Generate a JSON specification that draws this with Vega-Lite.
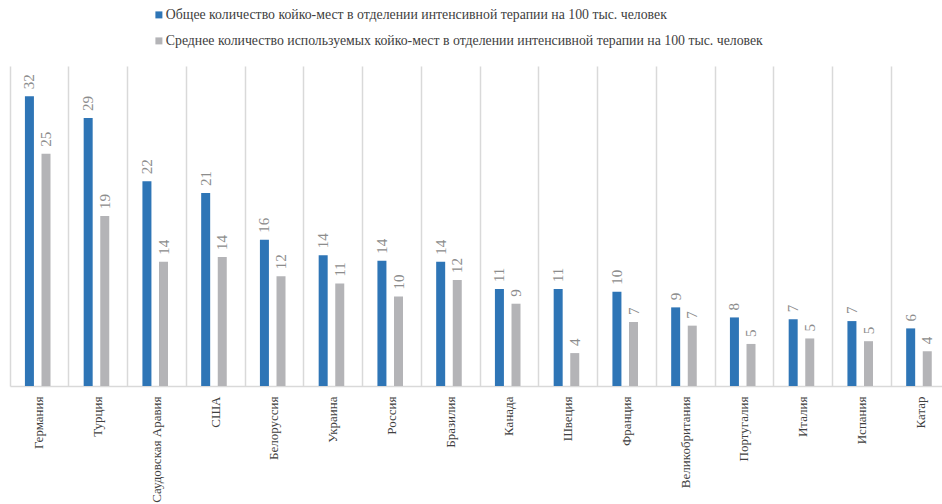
{
  "$schema": "https://vega.github.io/schema/vega-lite/v6.json",
  "width": 932,
  "height": 320,
  "autosize": {"type": "none"},
  "padding": {"left": 10, "top": 66, "right": 0, "bottom": 118},
  "background": "white",
  "config": {
    "view": {"stroke": null},
    "font": "Liberation Serif"
  },
  "data": {
    "values": [
      {"country": "Германия", "series": "Общее количество койко-мест в отделении интенсивной терапии на 100 тыс. человек", "value": 31.7},
      {"country": "Германия", "series": "Среднее количество используемых койко-мест в отделении интенсивной терапии на 100 тыс. человек", "value": 25.4},
      {"country": "Турция", "series": "Общее количество койко-мест в отделении интенсивной терапии на 100 тыс. человек", "value": 29.3},
      {"country": "Турция", "series": "Среднее количество используемых койко-мест в отделении интенсивной терапии на 100 тыс. человек", "value": 18.6},
      {"country": "Саудовская Аравия", "series": "Общее количество койко-мест в отделении интенсивной терапии на 100 тыс. человек", "value": 22.4},
      {"country": "Саудовская Аравия", "series": "Среднее количество используемых койко-мест в отделении интенсивной терапии на 100 тыс. человек", "value": 13.6},
      {"country": "США", "series": "Общее количество койко-мест в отделении интенсивной терапии на 100 тыс. человек", "value": 21.1},
      {"country": "США", "series": "Среднее количество используемых койко-мест в отделении интенсивной терапии на 100 тыс. человек", "value": 14.1},
      {"country": "Белоруссия", "series": "Общее количество койко-мест в отделении интенсивной терапии на 100 тыс. человек", "value": 16.0},
      {"country": "Белоруссия", "series": "Среднее количество используемых койко-мест в отделении интенсивной терапии на 100 тыс. человек", "value": 12.0},
      {"country": "Украина", "series": "Общее количество койко-мест в отделении интенсивной терапии на 100 тыс. человек", "value": 14.3},
      {"country": "Украина", "series": "Среднее количество используемых койко-мест в отделении интенсивной терапии на 100 тыс. человек", "value": 11.2},
      {"country": "Россия", "series": "Общее количество койко-мест в отделении интенсивной терапии на 100 тыс. человек", "value": 13.7},
      {"country": "Россия", "series": "Среднее количество используемых койко-мест в отделении интенсивной терапии на 100 тыс. человек", "value": 9.8},
      {"country": "Бразилия", "series": "Общее количество койко-мест в отделении интенсивной терапии на 100 тыс. человек", "value": 13.6},
      {"country": "Бразилия", "series": "Среднее количество используемых койко-мест в отделении интенсивной терапии на 100 тыс. человек", "value": 11.6},
      {"country": "Канада", "series": "Общее количество койко-мест в отделении интенсивной терапии на 100 тыс. человек", "value": 10.6},
      {"country": "Канада", "series": "Среднее количество используемых койко-мест в отделении интенсивной терапии на 100 тыс. человек", "value": 9.0},
      {"country": "Швеция", "series": "Общее количество койко-мест в отделении интенсивной терапии на 100 тыс. человек", "value": 10.6},
      {"country": "Швеция", "series": "Среднее количество используемых койко-мест в отделении интенсивной терапии на 100 тыс. человек", "value": 3.6},
      {"country": "Франция", "series": "Общее количество койко-мест в отделении интенсивной терапии на 100 тыс. человек", "value": 10.3},
      {"country": "Франция", "series": "Среднее количество используемых койко-мест в отделении интенсивной терапии на 100 тыс. человек", "value": 7.0},
      {"country": "Великобритания", "series": "Общее количество койко-мест в отделении интенсивной терапии на 100 тыс. человек", "value": 8.6},
      {"country": "Великобритания", "series": "Среднее количество используемых койко-мест в отделении интенсивной терапии на 100 тыс. человек", "value": 6.6},
      {"country": "Португалия", "series": "Общее количество койко-мест в отделении интенсивной терапии на 100 тыс. человек", "value": 7.5},
      {"country": "Португалия", "series": "Среднее количество используемых койко-мест в отделении интенсивной терапии на 100 тыс. человек", "value": 4.6},
      {"country": "Италия", "series": "Общее количество койко-мест в отделении интенсивной терапии на 100 тыс. человек", "value": 7.3},
      {"country": "Италия", "series": "Среднее количество используемых койко-мест в отделении интенсивной терапии на 100 тыс. человек", "value": 5.2},
      {"country": "Испания", "series": "Общее количество койко-мест в отделении интенсивной терапии на 100 тыс. человек", "value": 7.1},
      {"country": "Испания", "series": "Среднее количество используемых койко-мест в отделении интенсивной терапии на 100 тыс. человек", "value": 4.9},
      {"country": "Катар", "series": "Общее количество койко-мест в отделении интенсивной терапии на 100 тыс. человек", "value": 6.3},
      {"country": "Катар", "series": "Среднее количество используемых койко-мест в отделении интенсивной терапии на 100 тыс. человек", "value": 3.8}
    ]
  },
  "encoding": {
    "x": {
      "field": "country",
      "type": "nominal",
      "sort": null,
      "scale": {"range": [0, 940], "paddingInner": 0, "paddingOuter": 0},
      "axis": {
        "title": null,
        "labelAngle": 270,
        "labelFont": "Liberation Serif",
        "labelFontSize": 13,
        "labelColor": "#404040",
        "labelPadding": 10,
        "ticks": false,
        "domainColor": "#D9D9D9",
        "domainWidth": 1.5,
        "grid": true,
        "gridColor": "#D9D9D9",
        "gridWidth": 1.5,
        "bandPosition": 0
      }
    },
    "xOffset": {
      "field": "series",
      "sort": null,
      "scale": {"paddingInner": 0.457, "paddingOuter": 1.147, "align": 0.45}
    },
    "y": {
      "field": "value",
      "type": "quantitative",
      "scale": {"domain": [0, 35]},
      "axis": null
    }
  },
  "layer": [
    {
      "mark": {"type": "bar"},
      "encoding": {
        "color": {
          "field": "series",
          "type": "nominal",
          "sort": null,
          "scale": {"range": ["#2E75B6", "#B4B4B7"]},
          "legend": {
            "title": null,
            "orient": "none",
            "legendX": 142,
            "legendY": -58,
            "direction": "vertical",
            "symbolType": "square",
            "symbolSize": 49,
            "symbolStrokeWidth": 0,
            "labelFont": "Liberation Serif",
            "labelFontSize": 13.8,
            "labelColor": "#404040",
            "labelLimit": 800,
            "labelOffset": 0,
            "rowPadding": 11
          }
        }
      }
    },
    {
      "mark": {
        "type": "text",
        "angle": 270,
        "align": "left",
        "baseline": "middle",
        "dx": 7,
        "font": "Liberation Serif",
        "fontSize": 15,
        "color": "#8C8C8C"
      },
      "encoding": {
        "text": {"field": "value", "type": "quantitative", "format": ".0f"}
      }
    }
  ]
}
